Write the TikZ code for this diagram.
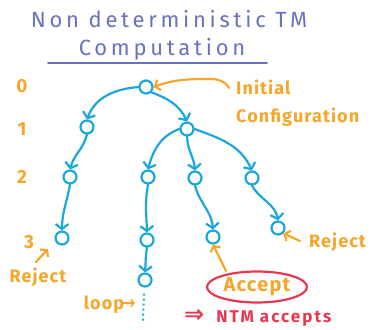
\documentclass[tikz,border=0pt]{standalone}
\usepackage{fontspec}
\setmainfont{Fira Sans}
\usetikzlibrary{arrows.meta,shapes.geometric}
\definecolor{titleblue}{RGB}{104,114,190}
\definecolor{treecyan}{RGB}{26,168,220}
\definecolor{orng}{RGB}{246,166,40}
\definecolor{redd}{RGB}{232,56,80}
\newfontfamily\titlefont[LetterSpace=17]{Fira Sans}
\newfontfamily\lblfont[LetterSpace=6]{Fira Sans}
\newfontfamily\ntmfont[LetterSpace=12]{Fira Sans}
\newfontfamily\symfont{DejaVu Sans}
\begin{document}
\begin{tikzpicture}[x=1pt,y=-1pt,
  cfg/.style={circle,draw=treecyan,line width=2.2pt,minimum size=13pt,inner sep=0pt},
  edge/.style={draw=treecyan,line width=2.2pt,line cap=round,-{Straight Barb[length=5pt,width=13pt,line width=2.2pt]}},
  oarr/.style={draw=orng,line width=2.2pt,line cap=round,-{Straight Barb[length=4.5pt,width=11pt,line width=2.2pt]}},
  olbl/.style={text=orng,font=\lblfont\bfseries\fontsize{18}{20}\selectfont,inner sep=0pt},
  lvl/.style={text=orng,font=\bfseries\fontsize{19}{21}\selectfont,inner sep=0pt}]
\path[use as bounding box] (0,0) rectangle (377,329);
% title
\node[text=titleblue,font=\titlefont\fontsize{22}{24}\selectfont,inner sep=0pt] (t1) at (169,19) {Non deterministic TM};
\node[text=titleblue,font=\titlefont\fontsize{22}{24}\selectfont,inner sep=0pt] (t2) at (162,49) {Computation};
\coordinate (u1) at (48,63);
\coordinate (u2) at (267,63);
\draw[titleblue,line width=2pt,line cap=round] (u1) -- (u2);
% level labels
\node[lvl] (l0) at (22,86) {0};
\node[lvl] (l1) at (22,129) {1};
\node[lvl] (l2) at (22,177) {2};
\node[lvl] (l3) at (29,242) {3};
% nodes
\node[cfg] (r) at (146,87) {};
\node[cfg] (a) at (87,127) {};
\node[cfg] (b) at (187,129) {};
\node[cfg] (c) at (70,177) {};
\node[cfg] (e) at (148,177) {};
\node[cfg] (f) at (195,178) {};
\node[cfg] (g) at (252,178) {};
\node[cfg] (d) at (62,238) {};
\node[cfg] (h) at (147,240) {};
\node[cfg] (i) at (145,280) {};
\node[cfg] (j) at (213,237) {};
\node[cfg] (k) at (278,228) {};
% edges
\draw[edge] (r.west) to[out=185,in=70] (a.north);
\draw[edge] (r.south east) to[out=-20,in=115] (b.north);
\draw[edge] (a.south) to[out=-105,in=75] (c.north);
\draw[edge] (c.south) to[out=-100,in=90] (d.north);
\draw[edge] (b.west) to[out=200,in=75] (e.north);
\draw[edge] (b.south) to[out=-88,in=95] (f.north);
\draw[edge] (b.east) to[out=-20,in=115] (g.north);
\draw[edge] (e.south) to[out=-100,in=92] (h.north);
\draw[edge] (h.south) to[out=-100,in=85] (i.north);
\draw[edge] (f.south) to[out=-75,in=95] (j.north);
\draw[edge] (g.south) to[out=-60,in=100] (k.north);
\coordinate (dend) at (143,321);
\draw[treecyan,line width=2pt,dash pattern=on 2pt off 3pt] (i.south) ++(-1,6) -- (dend);
% orange labels
\node[olbl,anchor=west] (init) at (236,87) {Initial};
\node[olbl,anchor=west] (conf) at (236,117) {Configuration};
\coordinate (ist) at (229,88);
\draw[oarr] (ist) to[out=120,in=0] (210,79) to[out=180,in=20] (r.east);
\node[olbl] (rej1) at (38,277) {Reject};
\coordinate (rj1) at (36,262);
\coordinate (rj1e) at (48,249);
\draw[oarr] (rj1) -- (rj1e);
\node[olbl,anchor=west] (rej2) at (309,242) {Reject};
\coordinate (rj2) at (300,241);
\draw[oarr] (rj2) -- (k.south east);
\node[olbl] (loop) at (104,305) {loop};
\coordinate (lp1) at (123,303);
\coordinate (lp2) at (135,303);
\draw[orng,line width=1.6pt,-{Straight Barb[length=3pt,width=7pt,line width=1.6pt]}] (lp1) -- (lp2);
\node[ellipse,draw=redd,line width=2.2pt,minimum width=100pt,minimum height=31pt,text=orng,font=\lblfont\bfseries\fontsize{20}{22}\selectfont,inner sep=0pt] (acc) at (257,287) {Accept};
\coordinate (ac1) at (226,271);
\draw[oarr] (ac1) -- (j.south);
\node[text=redd,font=\ntmfont\bfseries\fontsize{17}{20}\selectfont,inner sep=0pt,anchor=west] (ntm) at (184,318) {{\symfont\bfseries\fontsize{24}{20}\selectfont ⇒}\hspace{12pt}NTM accepts};
\end{tikzpicture}
\end{document}
